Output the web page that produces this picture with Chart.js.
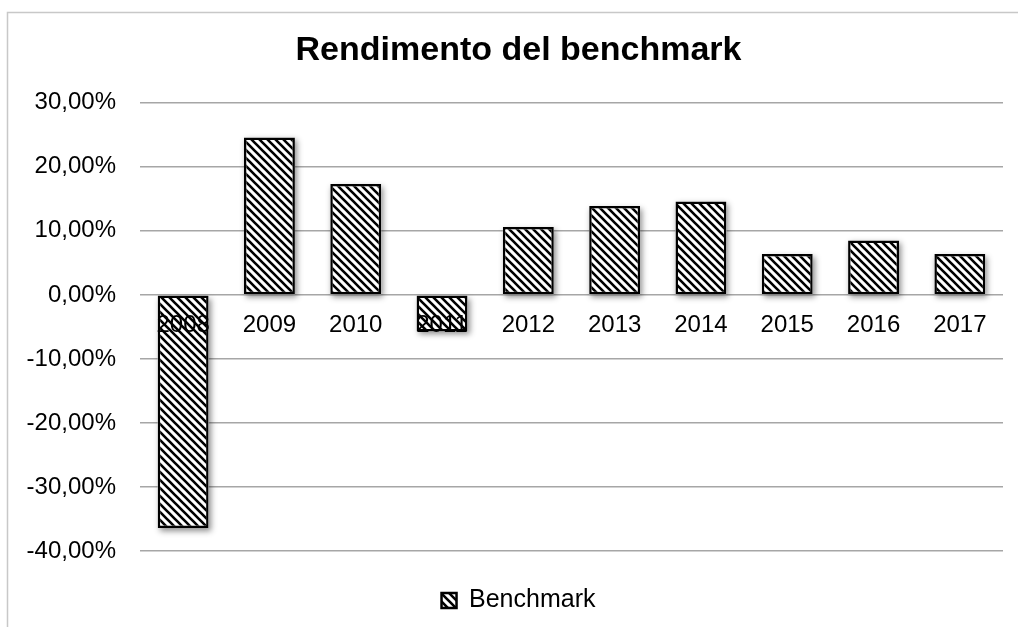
<!DOCTYPE html>
<html>
<head>
<meta charset="utf-8">
<script src="https://cdn.jsdelivr.net/npm/chart.js@4.4.1/dist/chart.umd.min.js"></script>
<style>
  html, body { margin: 0; padding: 0; background: #fff; }
  #wrap { position: relative; width: 1018px; height: 627px; }
  canvas { display: block; }
</style>
</head>
<body>
<div id="wrap"><canvas id="c" width="1018" height="627"></canvas></div>
<script>
const categories = ['2008', '2009', '2010', '2011', '2012', '2013', '2014', '2015', '2016', '2017'];
const benchmarkValues = [-36.4, 24.6, 17.3, -5.7, 10.6, 13.9, 14.6, 6.4, 8.5, 6.4];
const yTickValues = [30, 20, 10, 0, -10, -20, -30, -40];
const yTickLabels = ['30,00%', '20,00%', '10,00%', '0,00%', '-10,00%', '-20,00%', '-30,00%', '-40,00%'];
const seriesName = 'Benchmark';
const chartTitle = 'Rendimento del benchmark';

function makeHatch() {
  const s = 8;
  const p = document.createElement('canvas');
  p.width = s; p.height = s;
  const g = p.getContext('2d');
  g.fillStyle = '#fff';
  g.fillRect(0, 0, s, s);
  g.strokeStyle = '#000';
  g.lineWidth = 2.6;
  g.beginPath();
  g.moveTo(-2, -2); g.lineTo(s + 2, s + 2);
  g.moveTo(-2, s - 2); g.lineTo(2, s + 2);
  g.moveTo(s - 2, -2); g.lineTo(s + 2, 2);
  g.stroke();
  return document.getElementById('c').getContext('2d').createPattern(p, 'repeat');
}
const hatch = makeHatch();

const framePlugin = {
  id: 'frame',
  beforeDraw(chart) {
    const ctx = chart.ctx;
    ctx.save();
    ctx.fillStyle = '#fff';
    ctx.fillRect(0, 0, chart.width, chart.height);
    ctx.strokeStyle = '#c8c8c8';
    ctx.lineWidth = 1.5;
    ctx.beginPath();
    ctx.moveTo(7.5, chart.height);
    ctx.lineTo(7.5, 12.5);
    ctx.lineTo(chart.width, 12.5);
    ctx.stroke();
    ctx.restore();
  }
};

const shadowPlugin = {
  id: 'barShadow',
  beforeDatasetsDraw(chart) {
    const ctx = chart.ctx;
    const meta = chart.getDatasetMeta(0);
    ctx.save();
    ctx.shadowColor = 'rgba(0,0,0,0.45)';
    ctx.shadowBlur = 6;
    ctx.shadowOffsetX = 2;
    ctx.shadowOffsetY = 3;
    ctx.fillStyle = '#fff';
    meta.data.forEach(el => {
      const { x, y, base, width } = el.getProps(['x', 'y', 'base', 'width'], true);
      const top = Math.min(y, base), h = Math.abs(base - y);
      ctx.fillRect(x - width / 2, top, width, h);
    });
    ctx.restore();
  }
};

const labelFont = { family: '"Liberation Sans", Arial, sans-serif', size: 24 };

new Chart(document.getElementById('c'), {
  type: 'bar',
  data: {
    labels: categories,
    datasets: [{
      label: seriesName,
      data: benchmarkValues,
      backgroundColor: hatch,
      borderColor: '#000',
      borderWidth: 2.5,
      borderSkipped: false,
      barPercentage: 0.59,
      categoryPercentage: 1.0
    }]
  },
  options: {
    responsive: false,
    animation: false,
    devicePixelRatio: 1,
    layout: { padding: { left: 22, right: 3, top: 14, bottom: 4 } },
    plugins: {
      title: {
        display: true,
        text: chartTitle,
        color: '#000',
        font: { family: '"Liberation Sans", Arial, sans-serif', size: 34, weight: 'bold' },
        padding: { top: 16, bottom: 32 }
      },
      legend: {
        display: true,
        position: 'bottom',
        labels: {
          color: '#000',
          font: { family: '"Liberation Sans", Arial, sans-serif', size: 25 },
          boxWidth: 15,
          boxHeight: 15,
          padding: 14
        }
      },
      tooltip: { enabled: false }
    },
    scales: {
      x: {
        position: { y: 0 },
        grid: { display: false, drawTicks: false },
        border: { display: false },
        ticks: { color: '#000', font: labelFont, padding: 16, maxRotation: 0, autoSkip: false, z: 1 }
      },
      xSpacer: {
        type: 'category',
        position: 'bottom',
        grid: { display: false, drawTicks: false },
        border: { display: false },
        ticks: { display: false },
        afterFit(scale) { scale.height = 23; }
      },
      y: {
        min: -40,
        max: 30,
        afterBuildTicks(scale) {
          scale.ticks = yTickValues.map(v => ({ value: v }));
        },
        afterFit(scale) { scale.width = 118; },
        grid: { color: '#a6a6a6', lineWidth: 1.4, drawTicks: false },
        border: { display: false },
        ticks: {
          color: '#000',
          font: labelFont,
          padding: 24,
          callback(v) {
            const i = yTickValues.indexOf(v);
            return i >= 0 ? yTickLabels[i] : '';
          }
        }
      },
      ySpacer: {
        type: 'linear',
        position: 'right',
        grid: { display: false, drawTicks: false },
        border: { display: false },
        ticks: { display: false },
        afterFit(scale) { scale.width = 12; }
      }
    }
  },
  plugins: [framePlugin, shadowPlugin]
});
</script>
</body>
</html>
